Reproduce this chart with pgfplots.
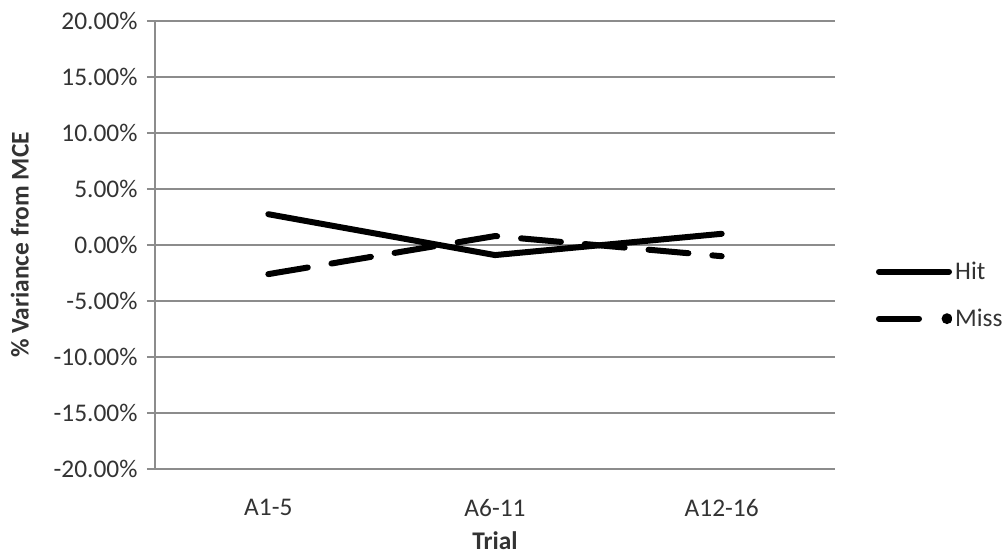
\documentclass[border=0pt]{standalone}
\usepackage{pgfplots}
\pgfplotsset{compat=1.18}
\usepackage{fontspec}
\setmainfont{Carlito}
\definecolor{txt}{HTML}{333333}
\definecolor{grd}{HTML}{8C8C8C}
\begin{document}
\begin{tikzpicture}
\path[use as bounding box] (-155bp,-88bp) rectangle (852bp,469bp);
\begin{axis}[
  at={(0,0)}, anchor=south west,
  scale only axis, width=680bp, height=448bp,
  xmin=-0.5, xmax=2.5, ymin=-20, ymax=20,
  xtick={0,1,2}, xticklabels={A1-5,A6-11,A12-16},
  ytick={-20,-15,...,20},
  yticklabels={-20.00\%,-15.00\%,-10.00\%,-5.00\%,0.00\%,5.00\%,10.00\%,15.00\%,20.00\%},
  axis x line=bottom, axis y line=left,
  axis line style={grd, line width=1.5pt, -},
  x tick style={draw=none},
  y tick style={grd, line width=1.5pt},
  tick align=outside, major tick length=8bp,
  ymajorgrids, grid style={grd, line width=1.3pt},
  ticklabel style={font=\fontsize{25.5}{30}\selectfont, text=txt},
  yticklabel style={xshift=-6bp},
  xticklabel style={yshift=-19bp},
  xlabel={\textbf{Trial}}, ylabel={\textbf{\% Variance from MCE}},
  label style={font=\fontsize{25.5}{30}\selectfont, text=txt},
  xlabel style={yshift=-8bp},
  ylabel style={yshift=18bp},
  legend style={draw=none, fill=none, at={(rel axis cs:1.06,0.388)}, anchor=west,
    font=\fontsize{25.5}{30}\selectfont, text=txt, row sep=28bp, inner sep=0pt,
    nodes={inner xsep=3bp, inner ysep=0pt}},
  legend cell align=left,
]
\addplot[black, line width=6bp, line cap=round,
  legend image code/.code={\draw[black, line width=6bp, line cap=round] (0bp,0bp) -- (70bp,0bp);}]
  coordinates {(0,2.75) (1,-0.9) (2,1.0)};
\addlegendentry{Hit}
\addplot[black, line width=6bp, line cap=round, dash pattern=on 40bp off 24bp,
  legend image code/.code={\draw[black, line width=6bp, line cap=round] (0bp,0bp) -- (46bp,0bp);
    \fill[black] (68bp,0bp) circle (2.2bp); \path (70bp,0bp);}]
  coordinates {(0,-2.6) (1,0.8) (2,-1.0)};
\addlegendentry{Miss}
\end{axis}
\end{tikzpicture}
\end{document}
